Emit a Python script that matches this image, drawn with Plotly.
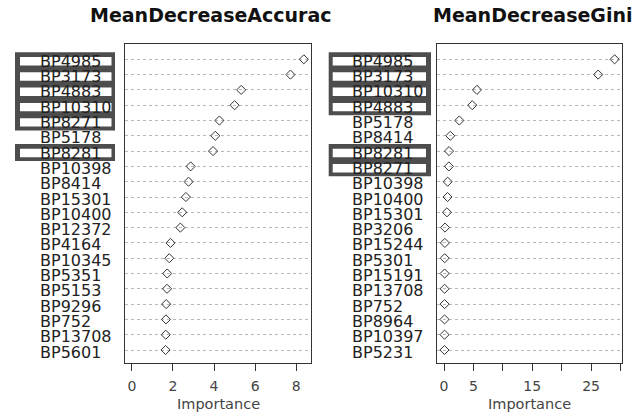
import plotly.graph_objects as go

# ---- data ----
acc_labels = ["BP4985", "BP3173", "BP4883", "BP10310", "BP8271", "BP5178", "BP8281",
              "BP10398", "BP8414", "BP15301", "BP10400", "BP12372", "BP4164", "BP10345",
              "BP5351", "BP5153", "BP9296", "BP752", "BP13708", "BP5601"]
acc_values = [8.37, 7.72, 5.32, 5.00, 4.26, 4.06, 3.95, 2.86, 2.76, 2.63, 2.45, 2.36,
              1.88, 1.82, 1.72, 1.71, 1.67, 1.66, 1.65, 1.64]
acc_boxed = [["BP4985", "BP3173", "BP4883", "BP10310", "BP8271"], ["BP8281"]]

gini_labels = ["BP4985", "BP3173", "BP10310", "BP4883", "BP5178", "BP8414", "BP8281",
               "BP8271", "BP10398", "BP10400", "BP15301", "BP3206", "BP15244", "BP5301",
               "BP15191", "BP13708", "BP752", "BP8964", "BP10397", "BP5231"]
gini_values = [29.0, 26.2, 5.6, 4.8, 2.6, 1.07, 0.85, 0.83, 0.62, 0.6, 0.5, 0.17, 0.15,
               0.12, 0.11, 0.10, 0.10, 0.09, 0.09, 0.08]
gini_boxed = [["BP4985", "BP3173", "BP10310", "BP4883"], ["BP8281", "BP8271"]]

acc_ticks = [0, 2, 4, 6, 8]
acc_ticktext = ["0", "2", "4", "6", "8"]
gini_ticks = [0, 5, 10, 15, 20, 25, 30]
gini_ticktext = ["0", "5", "", "15", "", "25", ""]

W, H = 636, 414
n = len(acc_labels)
pos = [n - i for i in range(n)]  # top row = n

fig = go.Figure()
FONT = "DejaVu Sans, Verdana, sans-serif"
DARK = "#333333"

panels = [
    dict(labels=acc_labels, values=acc_values, boxed=acc_boxed, xa="x", ya="y",
         dom=[125 / W, 311 / W], rng=[-0.335, 8.72], tv=acc_ticks, tt=acc_ticktext,
         title="MeanDecreaseAccurac", tx=211, lab_x=38, box=(15, 115, 20, 111.5)),
    dict(labels=gini_labels, values=gini_values, boxed=gini_boxed, xa="x2", ya="y2",
         dom=[436.7 / W, 621.7 / W], rng=[-1.24, 30.2], tv=gini_ticks, tt=gini_ticktext,
         title="MeanDecreaseGini", tx=532, lab_x=350, box=(328.7, 431, 332.7, 426)),
]

shapes = []
annotations = []
for k, p in enumerate(panels):
    fig.add_trace(go.Scatter(
        x=p["values"], y=pos, mode="markers", xaxis=p["xa"], yaxis=p["ya"],
        marker=dict(symbol="diamond-open", size=7, color=DARK, line=dict(width=1, color=DARK)),
        showlegend=False, hoverinfo="x+text", text=p["labels"]))
    suffix = "" if k == 0 else "2"
    ydom = [(414 - 363) / H, (414 - 44) / H]
    fig.update_layout(**{
        "xaxis" + suffix: dict(domain=p["dom"], range=p["rng"], anchor=p["ya"],
                               tickvals=p["tv"], ticktext=p["tt"], ticks="outside", ticklen=7,
                               tickcolor=DARK, showline=True, mirror=True, linecolor=DARK,
                               linewidth=1, showgrid=False, zeroline=False, automargin=False,
                               ticklabelstandoff=3,
                               tickfont=dict(family=FONT, size=14, color="#444")),
        "yaxis" + suffix: dict(domain=ydom, range=[0.15, 21], anchor=p["xa"],
                               tickvals=pos, showticklabels=False, ticks="", automargin=False,
                               showline=True, mirror=True, linecolor=DARK, linewidth=1,
                               showgrid=True, gridcolor="#b8b8b8", griddash="dot",
                               gridwidth=1, zeroline=False),
    })
    yref = p["ya"]
    ox0, ox1, ix0, ix1 = p["box"]
    for grp in p["boxed"]:
        rows = [pos[p["labels"].index(g)] for g in grp]
        shapes.append(dict(type="rect", xref="paper", yref=yref, layer="above",
                           x0=ox0 / W, x1=ox1 / W, y0=min(rows) - 0.65, y1=max(rows) + 0.46,
                           fillcolor="#4d4d4d", line=dict(width=0)))
        for r in rows:
            shapes.append(dict(type="rect", xref="paper", yref=yref, layer="above",
                               x0=ix0 / W, x1=ix1 / W, y0=r - 0.40, y1=r + 0.15,
                               fillcolor="white", line=dict(width=0)))
    for lab, yv in zip(p["labels"], pos):
        annotations.append(dict(text=lab, xref="paper", yref=yref, x=p["lab_x"] / W, y=yv,
                                xanchor="left", yanchor="middle", yshift=-2, showarrow=False,
                                font=dict(family=FONT, size=16, color="#222")))
    annotations.append(dict(text="<b>" + p["title"] + "</b>", xref="paper", yref="paper",
                            x=p["tx"] / W, y=1 - 15.5 / H, xanchor="center", yanchor="middle",
                            showarrow=False,
                            font=dict(family=FONT, size=19, color="#111")))
    annotations.append(dict(text="Importance", xref=p["xa"] + " domain", yref="paper",
                            x=0.5, y=1 - 404 / H, xanchor="center", yanchor="middle",
                            showarrow=False,
                            font=dict(family=FONT, size=14.5, color="#444")))

fig.update_layout(width=W, height=H, margin=dict(l=0, r=0, t=0, b=0),
                  paper_bgcolor="white", plot_bgcolor="white",
                  shapes=shapes, annotations=annotations)
fig.write_html("out.html", config={"displayModeBar": False},
               post_script="document.body.style.margin='0';document.body.style.overflow='hidden';")
